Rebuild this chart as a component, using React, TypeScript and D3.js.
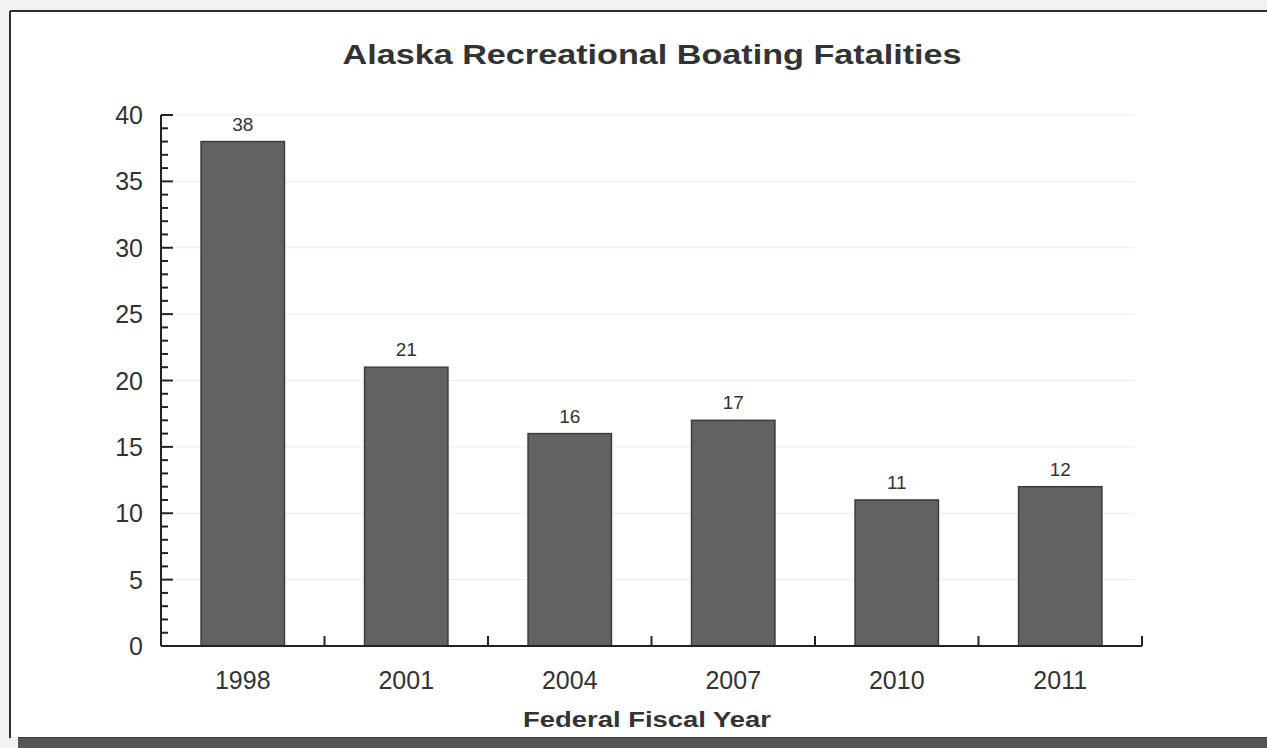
import React from "react";
import * as d3 from "d3";

// data
const years: string[] = ["1998", "2001", "2004", "2007", "2010", "2011"];
const fatalities: number[] = [38, 21, 16, 17, 11, 12];
const yTicks: number[] = [0, 5, 10, 15, 20, 25, 30, 35, 40];
const chartTitle = "Alaska Recreational Boating Fatalities";
const xTitle = "Federal Fiscal Year";

const W = 1267;
const H = 748;
const m = { l: 161, r: 125, t: 115, b: 102 };
const font = "'Liberation Sans', Arial, sans-serif";
const textColor = "#333";

export default function App() {
  const x = d3
    .scaleBand<string>()
    .domain(years)
    .range([m.l, W - m.r])
    .paddingInner(0.49)
    .paddingOuter(0.245);
  const y = d3.scaleLinear().domain([0, 40]).range([H - m.b, m.t]);

  const step = x.step();
  const x0 = m.l;
  const x1 = W - m.r;
  const minorTicks = d3.range(0, 41).filter((v) => v % 5 !== 0);
  const boundaries = years.map((_, i) => x0 + step * (i + 1));

  return (
    <svg
      width={W}
      height={H}
      style={{ position: "absolute", left: 0, top: 0, display: "block" }}
    >
      {/* page / frame */}
      <rect x={0} y={0} width={W} height={H} fill="#f2f2f2" />
      <rect x={10} y={11} width={W - 10} height={726} fill="#ffffff" />
      <line x1={10} y1={11} x2={W} y2={11} stroke="#2e2e2e" strokeWidth={2} />
      <line x1={10} y1={11} x2={10} y2={738} stroke="#2e2e2e" strokeWidth={2} />
      <rect x={18} y={737} width={W - 18} height={11} fill="#555555" />
      <line x1={18} y1={737.5} x2={W} y2={737.5} stroke="#3a3a3a" strokeWidth={1} />

      {/* title */}
      <text
        x={652}
        y={64}
        textAnchor="middle"
        fontFamily={font}
        fontWeight="bold"
        fontSize={28}
        fill={textColor}
        textLength={619}
        lengthAdjust="spacingAndGlyphs"
      >
        {chartTitle}
      </text>

      {/* gridlines */}
      {yTicks
        .filter((v) => v > 0)
        .map((v) => (
          <line
            key={"g" + v}
            x1={x0 + 14}
            x2={x1 - 7}
            y1={y(v)}
            y2={y(v)}
            stroke="#ececec"
            strokeWidth={1}
          />
        ))}

      {/* bars */}
      {years.map((yr, i) => (
        <g key={yr}>
          <rect
            x={x(yr)}
            y={y(fatalities[i])}
            width={x.bandwidth()}
            height={y(0) - y(fatalities[i])}
            fill="#626262"
            stroke="#3c3c3c"
            strokeWidth={1.5}
          />
          <text
            x={(x(yr) as number) + x.bandwidth() / 2}
            y={y(fatalities[i]) - 11}
            textAnchor="middle"
            fontFamily={font}
            fontSize={19}
            fill={textColor}
          >
            {fatalities[i]}
          </text>
          <text
            x={(x(yr) as number) + x.bandwidth() / 2}
            y={689}
            textAnchor="middle"
            fontFamily={font}
            fontSize={25}
            fill={textColor}
          >
            {yr}
          </text>
        </g>
      ))}

      {/* y axis */}
      <line x1={x0} x2={x0} y1={y(40)} y2={y(0)} stroke="#222" strokeWidth={2} />
      {yTicks.map((v) => (
        <g key={"y" + v}>
          <line x1={x0} x2={x0 + 12} y1={y(v)} y2={y(v)} stroke="#222" strokeWidth={2} />
          <text
            x={x0 - 18}
            y={y(v) + 9}
            textAnchor="end"
            fontFamily={font}
            fontSize={25}
            fill={textColor}
          >
            {v}
          </text>
        </g>
      ))}
      {minorTicks.map((v) => (
        <line
          key={"mn" + v}
          x1={x0}
          x2={x0 + 7}
          y1={y(v)}
          y2={y(v)}
          stroke="#222"
          strokeWidth={2}
        />
      ))}

      {/* x axis */}
      <line x1={x0} x2={x1} y1={y(0)} y2={y(0)} stroke="#222" strokeWidth={2} />
      {boundaries.map((bx, i) => (
        <line
          key={"xt" + i}
          x1={bx}
          x2={bx}
          y1={y(0)}
          y2={y(0) - 10}
          stroke="#222"
          strokeWidth={2}
        />
      ))}

      <text
        x={647}
        y={727}
        textAnchor="middle"
        fontFamily={font}
        fontWeight="bold"
        fontSize={22}
        fill={textColor}
        textLength={248}
        lengthAdjust="spacingAndGlyphs"
      >
        {xTitle}
      </text>
    </svg>
  );
}
